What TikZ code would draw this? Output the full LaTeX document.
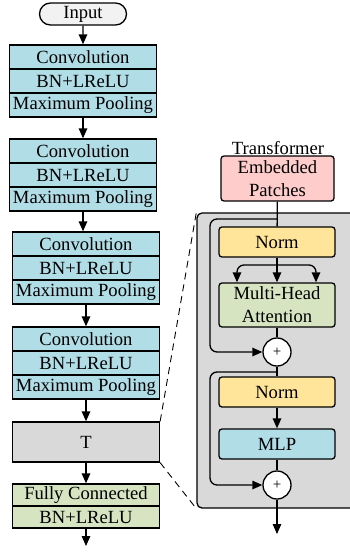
\documentclass[tikz,border=0pt]{standalone}
\usepackage{fontspec}
\setmainfont{Liberation Serif}
\usetikzlibrary{arrows.meta,shapes.misc}
\definecolor{convblue}{RGB}{176,221,230}
\definecolor{fcgreen}{RGB}{214,228,193}
\definecolor{normyel}{RGB}{255,229,153}
\definecolor{embpink}{RGB}{255,204,204}
\definecolor{tgray}{RGB}{217,217,217}
\definecolor{ingray}{RGB}{242,242,242}
\tikzset{
  layer/.style={draw,fill=convblue,minimum width=147pt,minimum height=24pt,inner sep=0pt},
  fcrow/.style={layer,fill=fcgreen,minimum height=22pt},
  blk/.style={draw,rounded corners=3pt,minimum width=116pt,minimum height=30pt,inner sep=0pt,align=center},
  addop/.style={draw,circle,fill=white,minimum size=28pt,inner sep=0pt,font=\fontsize{15}{15}\selectfont}
}
\begin{document}
\begin{tikzpicture}[x=1pt,y=-1pt,line width=1.3pt,font=\fontsize{18.6}{23}\selectfont,
  >={Triangle[length=10pt,width=8.5pt]}]
\useasboundingbox (0,0) rectangle (349,554);
% CNN branch
\node[rounded rectangle,draw,fill=ingray,minimum width=87pt,minimum height=22pt,inner sep=0pt](in)at(83,14){Input};
\foreach \i/\x/\y in {1/83/45,2/83/139,3/86/232,4/86/327}{
  \node[layer](conv\i)at(\x,\y+12){Convolution};
  \node[layer](bn\i)at(\x,\y+36){BN+LReLU};
  \node[layer](pool\i)at(\x,\y+60){Maximum Pooling};
}
\node[draw,fill=tgray,minimum width=147pt,minimum height=40pt](T)at(86,442){T};
\node[fcrow](fc)at(86,495){Fully Connected};
\node[fcrow](fcbn)at(86,517){BN+LReLU};
\coordinate(out1)at(86,546);
\draw[->](in)--(conv1);
\foreach \i/\j in {1/2,2/3,3/4}
  \draw[->](pool\i.south)--(pool\i.south|-conv\j.north);
\draw[->](pool4)--(T);
\draw[->](T)--(fc);
\draw[->](fcbn)--(out1);
% transformer
\node(trlabel)at(278,148){Transformer};
\node[draw,fill=tgray,rounded corners=5pt,minimum width=165pt,minimum height=295pt](tbox)at(279.5,360.5){};
\node[blk,fill=embpink,minimum width=113pt,minimum height=45pt](emb)at(277.5,178.5){Embedded\\Patches};
\node[blk,fill=normyel](norm1)at(277,242){Norm};
\node[blk,fill=fcgreen,minimum height=44pt](mha)at(277,305){Multi-Head\\Attention};
\node[addop](plus1)at(277,352){+};
\node[blk,fill=normyel](norm2)at(277,392){Norm};
\node[blk,fill=convblue](mlp)at(277,444){MLP};
\node[addop](plus2)at(277,485){+};
\coordinate(r1)at(277,219);
\coordinate(sp)at(277,265);
\coordinate(r2)at(277,372);
\coordinate(out2)at(277,534);
\draw(emb)--(norm1);
\draw[->,rounded corners=7pt](r1)--++(-67,0)|-(plus1.west);
\draw(norm1)--(sp);
\draw[->](sp)--(mha);
\draw[->,rounded corners=7pt](sp)-|([xshift=-40pt]mha.north);
\draw[->,rounded corners=7pt](sp)-|([xshift=39pt]mha.north);
\draw(mha)--(plus1);
\draw(plus1)--(norm2);
\draw[->,rounded corners=7pt](r2)--++(-67,0)|-(plus2.west);
\draw[->](norm2)--(mlp);
\draw(mlp)--(plus2);
\draw[->](plus2)--(out2);
% zoom lines
\draw[dashed,line width=0.9pt,dash pattern=on 7pt off 5pt](T.north east)--(tbox.north west);
\draw[dashed,line width=0.9pt,dash pattern=on 7pt off 5pt](T.south east)--(tbox.south west);
\end{tikzpicture}
\end{document}
